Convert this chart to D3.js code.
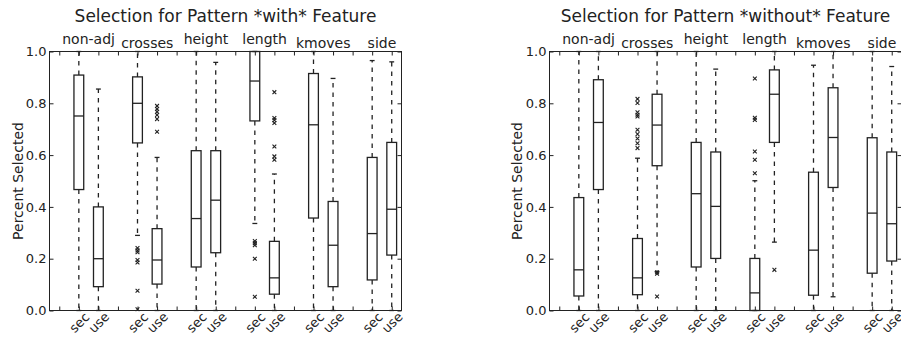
<!DOCTYPE html>
<html>
<head>
<meta charset="utf-8">
<script src="https://cdn.jsdelivr.net/npm/d3@7"></script>
<style>
  body { margin: 0; background: #fff; }
  svg { display: block; font-family: "DejaVu Sans", sans-serif; }
</style>
</head>
<body>
<svg id="chart" width="901" height="337"></svg>
<script>
const groups = ["non-adj", "crosses", "height", "length", "kmoves", "side"];
const roles = ["sec", "use"];
const yTicks = [0, 0.2, 0.4, 0.6, 0.8, 1.0];

// pattern *with* feature, order: non-adj sec, non-adj use, crosses sec, ...
const withHigh   = [1.0, 0.855, 1.0, 0.591, 1.0, 0.958, 1.0, 0.527, 1.0, 0.896, 0.965, 0.96];
const withQ3     = [0.909, 0.40, 0.902, 0.316, 0.617, 0.617, 1.0, 0.267, 0.915, 0.421, 0.591, 0.649];
const withMedian = [0.751, 0.20, 0.80, 0.195, 0.355, 0.426, 0.886, 0.126, 0.717, 0.252, 0.297, 0.391];
const withQ1     = [0.467, 0.092, 0.647, 0.102, 0.168, 0.223, 0.732, 0.063, 0.357, 0.092, 0.118, 0.214];
const withLow    = [0, 0, 0.29, 0, 0, 0, 0.336, 0, 0, 0, 0, 0];
const withFliers = [
  [], [],
  [0.241, 0.232, 0.225, 0.195, 0.185, 0.076, 0.005],
  [0.79, 0.778, 0.767, 0.755, 0.739, 0.69],
  [], [],
  [0.268, 0.26, 0.252, 0.20, 0.053],
  [0.843, 0.743, 0.735, 0.724, 0.633, 0.595, 0.582],
  [], [], [], []
];

// pattern *without* feature
const withoutHigh   = [1.0, 1.0, 0.588, 1.0, 1.0, 0.932, 0.501, 1.0, 0.947, 1.0, 1.0, 0.942];
const withoutQ3     = [0.436, 0.891, 0.278, 0.835, 0.649, 0.612, 0.201, 0.929, 0.534, 0.86, 0.667, 0.612];
const withoutMedian = [0.157, 0.726, 0.126, 0.716, 0.451, 0.402, 0.068, 0.835, 0.233, 0.668, 0.376, 0.335];
const withoutQ1     = [0.056, 0.467, 0.061, 0.559, 0.168, 0.201, 0.0, 0.649, 0.059, 0.475, 0.144, 0.191];
const withoutLow    = [0, 0, 0, 0.15, 0, 0, 0, 0.264, 0, 0.053, 0, 0];
const withoutFliers = [
  [], [],
  [0.817, 0.801, 0.765, 0.756, 0.749, 0.698, 0.681, 0.664, 0.646, 0.627],
  [0.148, 0.142, 0.054],
  [], [],
  [0.896, 0.744, 0.736, 0.614, 0.582, 0.53],
  [0.157],
  [], [], [], []
];

const panels = [
  { title: "Selection for Pattern *with* Feature", left: 49.5, labelX: 23,
    high: withHigh, q3: withQ3, med: withMedian, q1: withQ1, low: withLow, fliers: withFliers },
  { title: "Selection for Pattern *without* Feature", left: 549.5, labelX: 521.5,
    high: withoutHigh, q3: withoutQ3, med: withoutMedian, q1: withoutQ1, low: withoutLow, fliers: withoutFliers }
];

const ink = "#222";
const plotWidth = 352;
const plotTop = 51.5, plotBottom = 310.5;
const svg = d3.select("#chart");

const y = d3.scaleLinear().domain([0, 1]).range([plotBottom, plotTop]);

// box i sits at 1,2, 4,5, 7,8 ... leaving a gap between groups
const boxPos = i => Math.floor(i / 2) * 3 + 1 + (i % 2);
const posLabel = {};
groups.forEach((g, gi) => roles.forEach((r, ri) => { posLabel[gi * 3 + 1 + ri] = r; }));

panels.forEach(p => {
  const x = d3.scaleLinear().domain([-0.5, 17.5]).range([p.left, p.left + plotWidth]);
  const boxW = x(0.5) - x(0);
  const capW = x(0.25) - x(0);
  const g = svg.append("g");

  const boxes = d3.range(12).map(i => ({
    x: x(boxPos(i)), high: p.high[i], q3: p.q3[i], med: p.med[i], q1: p.q1[i], low: p.low[i], fliers: p.fliers[i]
  }));

  const b = g.selectAll(".box").data(boxes).enter().append("g")
    .attr("stroke", ink).attr("fill", "none");

  // whiskers
  b.append("line")
    .attr("x1", d => d.x).attr("x2", d => d.x)
    .attr("y1", d => y(d.q3)).attr("y2", d => y(d.high))
    .attr("stroke-width", 1.3).attr("stroke-dasharray", "4.5,5");
  b.append("line")
    .attr("x1", d => d.x).attr("x2", d => d.x)
    .attr("y1", d => y(d.q1)).attr("y2", d => y(d.low))
    .attr("stroke-width", 1.3).attr("stroke-dasharray", "4.5,5");

  // caps
  b.append("line")
    .attr("x1", d => d.x - capW / 2).attr("x2", d => d.x + capW / 2)
    .attr("y1", d => y(d.high)).attr("y2", d => y(d.high))
    .attr("stroke-width", 1.3);
  b.append("line")
    .attr("x1", d => d.x - capW / 2).attr("x2", d => d.x + capW / 2)
    .attr("y1", d => y(d.low)).attr("y2", d => y(d.low))
    .attr("stroke-width", 1.3);

  b.append("rect")
    .attr("x", d => d.x - boxW / 2)
    .attr("y", d => y(d.q3))
    .attr("width", boxW)
    .attr("height", d => y(d.q1) - y(d.q3))
    .attr("stroke-width", 1.3);

  b.append("line")
    .attr("x1", d => d.x - boxW / 2).attr("x2", d => d.x + boxW / 2)
    .attr("y1", d => y(d.med)).attr("y2", d => y(d.med))
    .attr("stroke-width", 1.3);

  b.selectAll(".flier")
    .data(d => d.fliers.map(v => ({ x: d.x, v })))
    .enter().append("path")
    .attr("transform", d => `translate(${d.x},${y(d.v)})`)
    .attr("d", "M-1.9,-1.9L1.9,1.9M-1.9,1.9L1.9,-1.9")
    .attr("stroke-width", 1.1);

  // axes, ticks pointing inward
  const xTicks = d3.range(0, 18);
  const bottomAxis = g.append("g")
    .attr("transform", `translate(0,${plotBottom})`)
    .call(d3.axisBottom(x).tickValues(xTicks).tickSizeInner(-4).tickSizeOuter(0)
      .tickFormat(v => posLabel[v] || ""));
  bottomAxis.selectAll("text")
    .attr("y", 0).attr("dy", null)
    .attr("dominant-baseline", "central")
    .attr("transform", "translate(0,12) rotate(-45)")
    .attr("font-size", 13).attr("fill", ink);

  g.append("g")
    .attr("transform", `translate(0,${plotTop})`)
    .call(d3.axisTop(x).tickValues(xTicks).tickSizeInner(-4).tickSizeOuter(0).tickFormat(""));

  const leftAxis = g.append("g")
    .attr("transform", `translate(${p.left},0)`)
    .call(d3.axisLeft(y).tickValues(yTicks).tickSizeInner(-4).tickSizeOuter(0)
      .tickPadding(3).tickFormat(d3.format(".1f")));
  leftAxis.selectAll("text").attr("font-size", 13).attr("fill", ink);

  g.append("g")
    .attr("transform", `translate(${p.left + plotWidth},0)`)
    .call(d3.axisRight(y).tickValues(yTicks).tickSizeInner(-4).tickSizeOuter(0).tickFormat(""));

  g.selectAll(".domain").remove();
  g.selectAll(".tick line").attr("stroke", ink);
  g.selectAll(".tick text").attr("font-family", "DejaVu Sans");

  g.append("rect")
    .attr("x", p.left).attr("y", plotTop)
    .attr("width", plotWidth).attr("height", plotBottom - plotTop)
    .attr("fill", "none").attr("stroke", ink).attr("stroke-width", 1);

  // group names above the frame, bottom of the ink sits on one line
  g.selectAll(".group").data(groups).enter().append("text")
    .attr("x", (d, gi) => x(gi * 3 + 1.5))
    .attr("y", d => /[gjpqy]/.test(d) ? 44.4 : 47.6)
    .attr("text-anchor", "middle")
    .attr("font-size", 14).attr("fill", ink)
    .text(d => d);

  g.append("text")
    .attr("x", p.left + plotWidth / 2)
    .attr("y", 21.7)
    .attr("text-anchor", "middle")
    .attr("font-size", 17).attr("fill", ink)
    .text(p.title);

  g.append("text")
    .attr("transform", `translate(${p.labelX},${(plotTop + plotBottom) / 2}) rotate(-90)`)
    .attr("text-anchor", "middle")
    .attr("font-size", 14).attr("fill", ink)
    .text("Percent Selected");
});
</script>
</body>
</html>
